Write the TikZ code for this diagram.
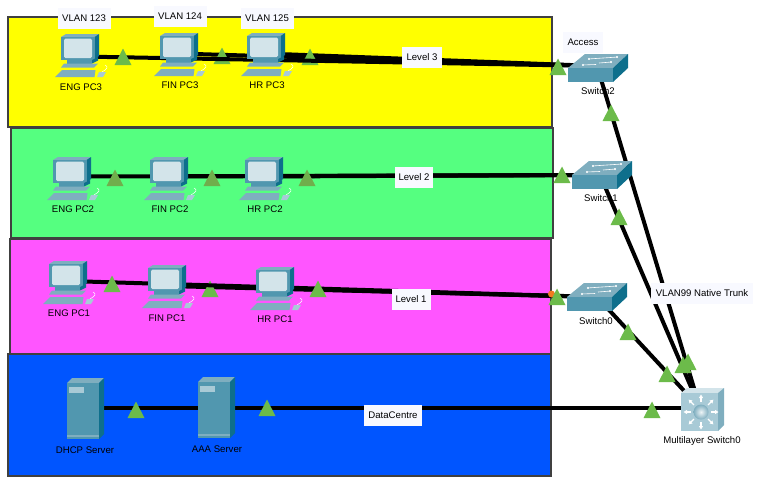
\documentclass[tikz,border=0pt]{standalone}
\usepackage{fontspec}
\setmainfont{Liberation Sans}
\usetikzlibrary{arrows.meta,shapes.geometric}
\definecolor{bandyellow}{HTML}{FFFF00}
\definecolor{bandgreen}{HTML}{55FF80}
\definecolor{bandpink}{HTML}{FF55FF}
\definecolor{bandblue}{HTML}{0055FF}
\definecolor{linkgreen}{HTML}{6CBB4A}
\definecolor{linkolive}{HTML}{70AE4C}
\definecolor{linkorange}{HTML}{F07A20}
\definecolor{noteback}{HTML}{F8F9FF}
\definecolor{iconmid}{HTML}{5197AF}
\definecolor{iconlight}{HTML}{7FAEBF}
\definecolor{icondark}{HTML}{0E6F8C}
\definecolor{iconscreen}{HTML}{D3E4EA}
\definecolor{iconpale}{HTML}{A8CAD6}
\tikzset{
  band/.style = {draw=black!75, line width=1.3pt},
  wire/.style = {line width=4pt, black},
  device/.style = {inner sep=0pt, minimum size=0pt},
  linkup/.style = {isosceles triangle, shape border rotate=90, isosceles triangle stretches,
    minimum width=17pt, minimum height=16.5pt, inner sep=0pt, anchor=apex, fill=linkgreen},
  note/.style = {fill=noteback, inner sep=0pt, minimum height=21pt, font=\fontsize{9.6}{10}\selectfont},
  devname/.style = {inner sep=0pt, font=\fontsize{9.6}{10}\selectfont},
  pcicon/.pic = {
    \fill[iconlight] (0,0) -- (5,-3) -- (38,-3) -- (33.5,0) -- cycle;
    \fill[icondark] (33.5,0) -- (38,-3) -- (38,19) -- (33.5,23) -- cycle;
    \fill[iconmid] (0,0) rectangle (33.5,23);
    \fill[iconscreen, rounded corners=1.5pt] (3,1.5) rectangle (31,21);
    \fill[iconmid] (6,23) rectangle (31,26.5);
    \fill[icondark] (31,23) -- (37,20) -- (37,23.5) -- (31,26.5) -- cycle;
    \fill[iconlight] (3,26.5) -- (37,26.5) -- (33,30.5) -- (0,30.5) -- cycle;
    \fill[iconlight] (1,33) -- (34.5,33) -- (33.5,40) -- (-6,40) -- cycle;
    \fill[iconpale] (38,35) -- (45,35) -- (42,40) -- (36,40) -- cycle;
    \draw[white, line width=.5pt] (41,35) .. controls (46,32) and (48,30) .. (44,28);
  },
  switchicon/.pic = {
    \fill[iconlight] (0,0) -- (17,-14) -- (60,-14) -- (45,0) -- cycle;
    \fill[icondark] (45,0) -- (60,-14) -- (60,0) -- (45,14) -- cycle;
    \fill[iconmid] (0,0) rectangle (45,14);
    \draw[white, line width=.6pt, {Circle[length=2pt]}-{Circle[length=2pt]}] (20,-9) -- (50,-11);
    \draw[white, line width=.6pt, -{Circle[length=2pt]}] (31,-5) -- (44,-6);
    \draw[white, line width=.6pt, {Circle[length=2pt]}-] (14,-3) -- (28,-3.5);
  },
  mlsicon/.pic = {
    \fill[iconscreen] (0,0) -- (6,-5) -- (43,-5) -- (37,0) -- cycle;
    \fill[iconlight] (37,0) -- (43,-5) -- (43,32) -- (37,38) -- cycle;
    \fill[iconpale] (0,0) rectangle (37,38);
    \foreach \ang in {0,45,...,315}
      \draw[white, line width=1.1pt, -{Triangle[length=3.5pt,width=4pt]}] (20,19) ++(\ang:10) -- ++(\ang:7.5);
    \shade[inner color=iconscreen!40, outer color=iconlight] (20,19) circle (7.5);
  },
  servericon/.pic = {
    \fill[iconlight] (0,0) -- (5,-5) -- (37,-5) -- (32,0) -- cycle;
    \fill[icondark] (32,0) -- (37,-5) -- (37,51) -- (32,56) -- cycle;
    \fill[iconmid] (0,0) rectangle (32,56);
    \fill[iconpale] (2,4) rectangle (17,10);
    \fill[iconlight] (0,52) rectangle (32,54);
  }
}

\begin{document}
\begin{tikzpicture}[x=1pt,y=-1pt]
\useasboundingbox (0,0) rectangle (765,485);

% coloured floors
\draw[band, fill=bandyellow] (8,17) rectangle (552,127);
\draw[band, fill=bandgreen] (11,128) rectangle (553,238);
\draw[band, fill=bandpink] (10,239) rectangle (551,354);
\draw[band, fill=bandblue] (8,354) rectangle (551,476);

% devices
\node (eng3) at (80,56.5) [device]{};
\node (fin3) at (178,53.5) [device]{};
\node (hr3) at (265,53.5) [device]{};
\node (eng2) at (72,176.5) [device]{};
\node (fin2) at (170,176.5) [device]{};
\node (hr2) at (263,176.5) [device]{};
\node (eng1) at (68,281) [device]{};
\node (fin1) at (167,286) [device]{};
\node (hr1) at (276,288.5) [device]{};
\node (dhcp) at (83,408) [device]{};
\node (aaa) at (215,408) [device]{};
\node (sw2) at (597,66) [device]{};
\node (sw1) at (600,175) [device]{};
\node (sw0) at (597,297) [device]{};
\node (mls) at (700,408) [device]{};

% top floor, the ENG wire runs over two of the link lights
\draw[wire] (fin3) -- (sw2);
\draw[wire] (hr3) -- (sw2);
\node (t2) at (222,47) [linkup]{};
\node (t3) at (310,48) [linkup]{};
\draw[wire] (eng3) -- (sw2);
\node (t1) at (123,48) [linkup]{};

% other floors
\draw[wire] (eng2) -- (sw1);
\draw[wire] (fin2) -- (sw1);
\draw[wire] (hr2) -- (sw1);
\draw[wire] (fin1) -- (sw0);
\draw[wire] (hr1) -- (sw0);
\node (t12) at (210,280) [linkup]{};
\draw[wire] (eng1) -- (sw0);
\draw[wire] (dhcp) -- (mls);

% trunks
\draw[wire] (sw2) -- (mls);
\draw[wire] (sw1) -- (mls);
\draw[wire] (sw0) -- (mls);

% link lights
\fill[linkorange] (551.5,294) circle (3.5);
\node (t4) at (558,58) [linkup]{};
\node (t5) at (611,104) [linkup]{};
\node (t6) at (115,169) [linkup, fill=linkolive]{};
\node (t7) at (212,169) [linkup, fill=linkolive]{};
\node (t8) at (307,169) [linkup, fill=linkolive]{};
\node (t9) at (562,166) [linkup]{};
\node (t10) at (619,208) [linkup]{};
\node (t11) at (112,275) [linkup]{};
\node (t13) at (318,280) [linkup]{};
\node (t14) at (557,288) [linkup]{};
\node (t15) at (628,323) [linkup]{};
\node (t16) at (667,365) [linkup]{};
\node (t17) at (683,356) [linkup]{};
\node (t18) at (688,353) [linkup]{};
\node (t19) at (136,401) [linkup]{};
\node (t20) at (267,399) [linkup]{};
\node (t21) at (652,401) [linkup]{};

% icons
\pic at (61,37) {pcicon};
\pic at (160,36) {pcicon};
\pic at (247,36) {pcicon};
\pic at (53,160) {pcicon};
\pic at (150,160) {pcicon};
\pic at (245,160) {pcicon};
\pic at (49,264) {pcicon};
\pic at (148,268) {pcicon};
\pic at (256,270) {pcicon};
\pic at (67,383) {servericon};
\pic at (198,382) {servericon};
\pic at (568,68) {switchicon};
\pic at (572,175) {switchicon};
\pic at (567,297) {switchicon};
\pic at (681,393) {mlsicon};

% device names
\node (eng3name) at (81,87) [devname]{ENG PC3};
\node (fin3name) at (180,85) [devname]{FIN PC3};
\node (hr3name) at (267,85) [devname]{HR PC3};
\node (eng2name) at (73,209) [devname]{ENG PC2};
\node (fin2name) at (170,209) [devname]{FIN PC2};
\node (hr2name) at (265,209) [devname]{HR PC2};
\node (eng1name) at (69,313) [devname]{ENG PC1};
\node (fin1name) at (167,318) [devname]{FIN PC1};
\node (hr1name) at (275,319) [devname]{HR PC1};
\node (dhcpname) at (85,450) [devname]{DHCP Server};
\node (aaaname) at (217,449) [devname]{AAA Server};
\node (sw2name) at (598,91) [devname]{Switch2};
\node (sw1name) at (601,198) [devname]{Switch1};
\node (sw0name) at (596,321) [devname]{Switch0};
\node (mlsname) at (702,441) [devname]{Multilayer Switch0};

% notes
\node (vlan123) at (84,18) [note, minimum width=53pt]{VLAN 123};
\node (vlan124) at (180,16) [note, minimum width=53pt]{VLAN 124};
\node (vlan125) at (267,18) [note, minimum width=53pt]{VLAN 125};
\node (access) at (583,42) [note, minimum width=40pt]{Access};
\node (level3) at (422,57) [note, minimum width=40pt]{Level 3};
\node (level2) at (414,177) [note, minimum width=38pt]{Level 2};
\node (level1) at (411,299) [note, minimum width=39pt]{Level 1};
\node (centre) at (393,415) [note, minimum width=58pt]{DataCentre};
\node (trunk) at (702,293) [note, minimum width=102pt]{VLAN99 Native Trunk};

\end{tikzpicture}
\end{document}
